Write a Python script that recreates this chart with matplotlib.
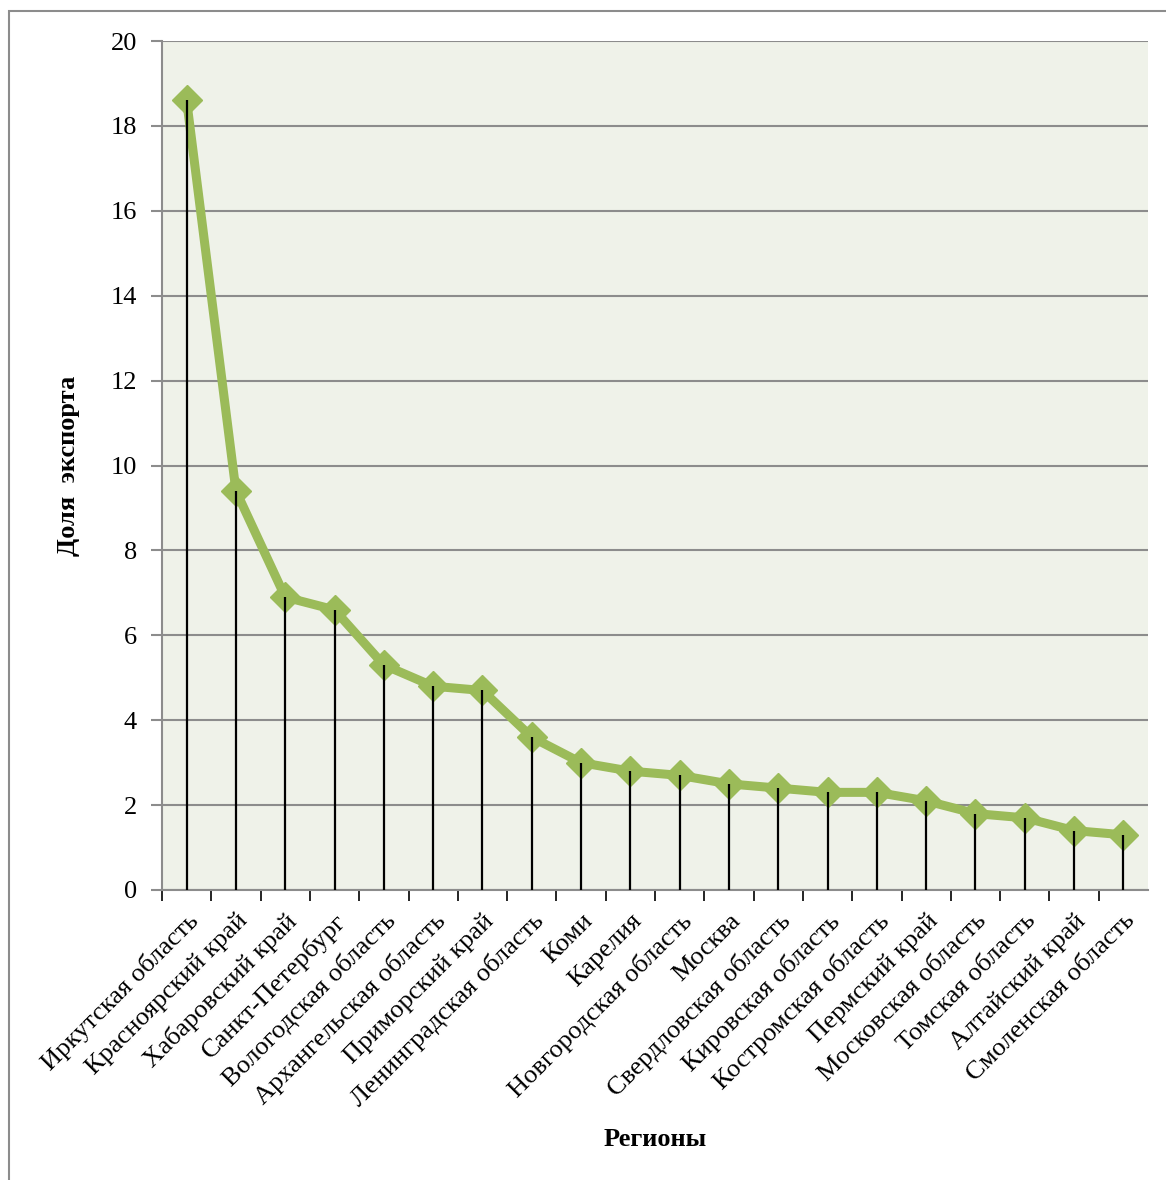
import numpy as np
import matplotlib
matplotlib.use('Agg')
from matplotlib import pyplot as plt
from matplotlib.patches import Rectangle

regions = ['Иркутская область', 'Красноярский край', 'Хабаровский край', 'Санкт-Петербург',
           'Вологодская область', 'Архангельская область', 'Приморский край',
           'Ленинградская область', 'Коми', 'Карелия', 'Новгородская область', 'Москва',
           'Свердловская область', 'Кировская область', 'Костромская область',
           'Пермский край', 'Московская область', 'Томская область', 'Алтайский край',
           'Смоленская область']
export_share = [18.6, 9.4, 6.9, 6.6, 5.3, 4.8, 4.7, 3.6, 3.0, 2.8, 2.7, 2.5, 2.4, 2.3, 2.3,
                2.1, 1.8, 1.7, 1.4, 1.3]
y_ticks = [0, 2, 4, 6, 8, 10, 12, 14, 16, 18, 20]

plt.rcParams['font.family'] = ['Liberation Serif', 'DejaVu Serif']

W, H = 1166, 1180
fig = plt.figure(figsize=(W / 100, H / 100), dpi=100)
ax = fig.add_axes([162 / W, 1 - 890 / H, (1148 - 162) / W, (890 - 41) / H])

# рамка вокруг диаграммы
fig.patches.append(Rectangle((9 / W, -0.01), 1.02, 1 - 11 / H + 0.01, transform=fig.transFigure,
                             fill=False, edgecolor='#8c8c8c', linewidth=1.5))

x = np.arange(len(regions))
ax.set_facecolor('#eff2e9')
ax.vlines(x, 0, export_share, colors='black', linewidth=1.6, zorder=4)
ax.plot(x, export_share, color='#9bbb59', linewidth=6.5, marker='D', markersize=15,
        solid_joinstyle='round', zorder=3)

ax.set_xlim(-0.5, len(regions) - 0.5)
ax.set_ylim(0, 20)
ax.set_yticks(y_ticks)
ax.set_yticklabels([str(v) for v in y_ticks], fontsize=19)
ax.yaxis.grid(True, color='#8c8c8c', linewidth=1.5)
ax.set_axisbelow(True)
ax.tick_params(axis='y', length=8, width=1.5, color='#8c8c8c', pad=10)

ax.set_xticks(x)
ax.set_xticklabels(regions, rotation=45, ha='right', rotation_mode='anchor', fontsize=19)
ax.tick_params(axis='x', which='major', length=0, pad=14)
ax.set_xticks(np.arange(len(regions)) - 0.5, minor=True)
ax.tick_params(axis='x', which='minor', length=8, width=1.2, color='black')

for side in ['top', 'right']:
    ax.spines[side].set_visible(False)
for side in ['left', 'bottom']:
    ax.spines[side].set_color('#8c8c8c')
    ax.spines[side].set_linewidth(1.5)

ax.set_ylabel('Доля  экспорта', fontsize=19, fontweight='bold', labelpad=22)
fig.text(655 / W, 1 - 1140 / H, 'Регионы', fontsize=19, fontweight='bold', ha='center', va='center')

fig.savefig('out.png', dpi=100)
